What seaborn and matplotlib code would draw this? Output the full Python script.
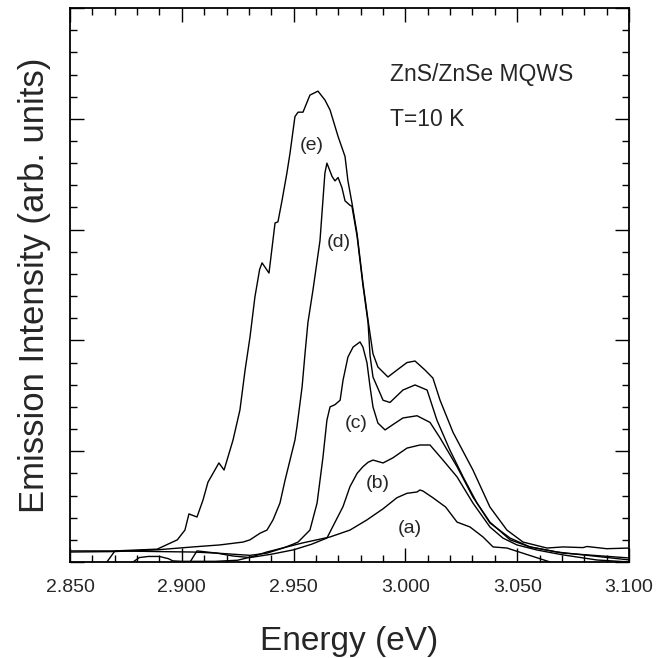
import numpy as np
import matplotlib
matplotlib.use("Agg")
import matplotlib.pyplot as plt
from matplotlib.ticker import MultipleLocator, FormatStrFormatter
import pandas as pd
import seaborn as sns

sns.set_theme(style="ticks")
plt.rcParams['font.family'] = ['Liberation Sans', 'DejaVu Sans']

# emission spectra: energy (eV) / intensity (arb. units)
e_energy = [2.850, 2.870, 2.889, 2.898, 2.9014, 2.9032, 2.9068, 2.9095, 2.9117, 2.9166,
            2.9189, 2.9229, 2.9260, 2.9283, 2.9305, 2.9327, 2.9348, 2.9359, 2.9390, 2.9417,
            2.9430, 2.9448, 2.9470, 2.9484, 2.9506, 2.9520, 2.9542, 2.9573, 2.9609, 2.9640,
            2.9663, 2.9699, 2.9730, 2.9743, 2.9761, 2.9784, 2.9810, 2.9833, 2.9855, 2.9877,
            2.9922, 2.9962, 3.0007, 3.0043, 3.0088, 3.0123, 3.0155, 3.0213, 3.0302, 3.0378,
            3.0454, 3.0526, 3.0633, 3.0705, 3.0794, 3.0812, 3.0900, 3.1004]
e_intensity = [0.50, 0.50, 0.58, 1.00, 1.44, 2.17, 2.03, 2.80, 3.60, 4.47,
               4.15, 5.50, 6.86, 8.66, 10.15, 11.96, 13.20, 13.50, 13.04, 15.30,
               15.35, 16.30, 17.55, 18.45, 20.10, 20.30, 20.30, 21.07, 21.25, 20.85,
               20.40, 19.20, 18.30, 17.20, 16.20, 14.80, 12.60, 10.90, 9.40, 8.80,
               8.35, 8.66, 9.00, 9.07, 8.66, 8.30, 7.30, 5.85, 4.15, 2.48,
               1.44, 0.90, 0.63, 0.68, 0.65, 0.70, 0.60, 0.63]

d_energy = [2.850, 2.870, 2.889, 2.905, 2.917, 2.9274, 2.9305, 2.9350, 2.9381, 2.9408,
            2.9439, 2.9462, 2.9484, 2.9506, 2.9515, 2.9538, 2.9551, 2.9564, 2.9587, 2.9618,
            2.9640, 2.9649, 2.9672, 2.9685, 2.9699, 2.9716, 2.9730, 2.9752, 2.9761, 2.9784,
            2.9810, 2.9833, 2.9842, 2.9855, 2.9900, 2.9931, 2.9989, 3.0043, 3.0097, 3.0141,
            3.0199, 3.0258, 3.0320, 3.0378, 3.0468, 3.0557, 3.0678, 3.1004]
d_intensity = [0.45, 0.47, 0.55, 0.68, 0.77, 0.90, 1.00, 1.30, 1.44, 1.90,
               2.66, 3.70, 4.60, 5.50, 6.10, 7.90, 9.40, 10.80, 12.30, 14.50,
               17.55, 18.00, 17.40, 17.20, 17.35, 16.90, 16.30, 16.10, 16.05, 14.70,
               12.50, 10.80, 9.30, 8.35, 7.30, 7.20, 7.76, 7.99, 7.76, 6.40,
               5.05, 3.84, 2.66, 1.76, 1.08, 0.68, 0.45, 0.09]

c_energy = [2.8665, 2.8701, 2.890, 2.905, 2.9157, 2.9305, 2.9381, 2.9453, 2.9497, 2.9520,
            2.9573, 2.9605, 2.9631, 2.9649, 2.9663, 2.9685, 2.9708, 2.9721, 2.9743, 2.9766,
            2.9797, 2.9810, 2.9828, 2.9842, 2.9855, 2.9877, 2.9909, 2.9944, 2.9989, 3.0052,
            3.0110, 3.0155, 3.0231, 3.0302, 3.0378, 3.0468, 3.0557, 3.0705, 3.1004]
c_intensity = [0.00, 0.50, 0.47, 0.45, 0.40, 0.30, 0.40, 0.63, 0.80, 0.90,
               1.44, 2.66, 4.70, 6.40, 7.00, 7.10, 7.30, 8.20, 9.25, 9.70,
               9.93, 9.70, 9.00, 7.90, 7.00, 6.27, 5.96, 6.20, 6.50, 6.60,
               6.30, 5.60, 4.30, 2.93, 1.80, 1.00, 0.68, 0.40, 0.18]

b_energy = [2.9037, 2.9068, 2.9157, 2.9229, 2.9305, 2.9400, 2.9500, 2.9580, 2.9649, 2.9721,
            2.9752, 2.9784, 2.9810, 2.9833, 2.9855, 2.9900, 2.9944, 3.0007, 3.0065, 3.0110,
            3.0168, 3.0231, 3.0302, 3.0378, 3.0436, 3.0499, 3.0589, 3.0705, 3.0857, 3.1004]
b_intensity = [0.00, 0.50, 0.40, 0.27, 0.20, 0.35, 0.55, 0.80, 1.08, 2.50,
               3.40, 4.00, 4.30, 4.50, 4.60, 4.47, 4.70, 5.14, 5.28, 5.28,
               4.60, 3.84, 2.66, 1.58, 1.08, 0.77, 0.54, 0.32, 0.09, 0.00]

a_energy = [2.8782, 2.8810, 2.8850, 2.8900, 2.8940, 2.8960, 2.9000, 2.9150, 2.9250, 2.9318,
            2.9380, 2.9540, 2.9663, 2.9752, 2.9828, 2.9900, 2.9962, 3.0007, 3.0052, 3.0065,
            3.0079, 3.0123, 3.0180, 3.0231, 3.0289, 3.0347, 3.0392, 3.0454, 3.0647]
a_intensity = [0.00, 0.20, 0.25, 0.25, 0.15, 0.05, 0.03, 0.03, 0.08, 0.25,
               0.45, 0.86, 1.13, 1.44, 1.90, 2.40, 2.90, 3.10, 3.16, 3.25,
               3.20, 2.90, 2.48, 1.80, 1.58, 1.13, 0.68, 0.63, 0.00]

curves = {
    '(a)': (a_energy, a_intensity),
    '(b)': (b_energy, b_intensity),
    '(c)': (c_energy, c_intensity),
    '(d)': (d_energy, d_intensity),
    '(e)': (e_energy, e_intensity),
}
# label positions (energy, intensity)
label_pos = {
    '(a)': (3.002, 1.49),
    '(b)': (2.9877, 3.52),
    '(c)': (2.978, 6.23),
    '(d)': (2.970, 14.4),
    '(e)': (2.958, 18.8),
}

fig = plt.figure(figsize=(6.59, 6.58), dpi=100)
ax = fig.add_axes([0.1062, 0.1459, 0.8483, 0.8419])

for name, (energy, intensity) in curves.items():
    df = pd.DataFrame({'energy': energy, 'intensity': intensity})
    sns.lineplot(data=df, x='energy', y='intensity', sort=False, estimator=None,
                 color='black', linewidth=1.0, ax=ax)
    lx, ly = label_pos[name]
    ax.text(lx, ly, name, fontsize=14, ha='center', va='center')

ax.text(2.993, 22.0, 'ZnS/ZnSe MQWS', fontsize=16.5, ha='left', va='center')
ax.text(2.993, 19.95, 'T=10 K', fontsize=16.5, ha='left', va='center')

ax.set_xlim(2.85, 3.10)
ax.set_ylim(0, 25)
ax.xaxis.set_major_locator(MultipleLocator(0.05))
ax.xaxis.set_minor_locator(MultipleLocator(0.01))
ax.xaxis.set_major_formatter(FormatStrFormatter('%.3f'))
ax.yaxis.set_major_locator(MultipleLocator(5))
ax.yaxis.set_minor_locator(MultipleLocator(1))
ax.tick_params(which='both', direction='in', top=True, right=True,
               labelleft=False, color='black', width=1.0)
ax.tick_params(which='major', length=10, labelsize=14, pad=12)
ax.tick_params(which='minor', length=5)
for spine in ax.spines.values():
    spine.set_color('black')
    spine.set_linewidth(1.3)

ax.set_xlabel('Energy (eV)', fontsize=24, labelpad=22)
ax.set_ylabel('Emission Intensity (arb. units)', fontsize=25, labelpad=14)

fig.savefig('out.png', dpi=100, facecolor='white')
